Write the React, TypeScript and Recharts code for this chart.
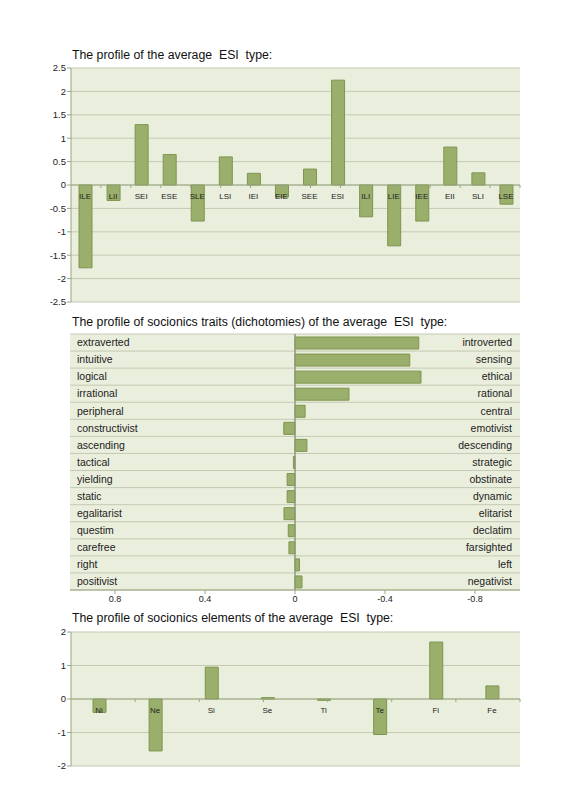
import React from 'react';
import { BarChart, Bar, XAxis, YAxis, CartesianGrid, ReferenceLine, ReferenceDot } from 'recharts';

const typeNames = ['ILE', 'LII', 'SEI', 'ESE', 'SLE', 'LSI', 'IEI', 'EIE', 'SEE', 'ESI', 'ILI', 'LIE', 'IEE', 'EII', 'SLI', 'LSE'];
const typeScores = [-1.77, -0.33, 1.29, 0.65, -0.77, 0.6, 0.25, -0.26, 0.34, 2.24, -0.68, -1.3, -0.77, 0.81, 0.26, -0.41];
const typeTicks = [-2.5, -2, -1.5, -1, -0.5, 0, 0.5, 1, 1.5, 2, 2.5];

const traitLeft = ['extraverted', 'intuitive', 'logical', 'irrational', 'peripheral', 'constructivist', 'ascending', 'tactical', 'yielding', 'static', 'egalitarist', 'questim', 'carefree', 'right', 'positivist'];
const traitRight = ['introverted', 'sensing', 'ethical', 'rational', 'central', 'emotivist', 'descending', 'strategic', 'obstinate', 'dynamic', 'elitarist', 'declatim', 'farsighted', 'left', 'negativist'];
const traitScores = [-0.55, -0.51, -0.56, -0.24, -0.045, 0.05, -0.053, 0.007, 0.035, 0.035, 0.049, 0.03, 0.027, -0.02, -0.031];
const traitTicks = [0.8, 0.4, 0, -0.4, -0.8];

const elementNames = ['Ni', 'Ne', 'Si', 'Se', 'Ti', 'Te', 'Fi', 'Fe'];
const elementScores = [-0.4, -1.55, 0.95, 0.04, -0.04, -1.06, 1.7, 0.39];
const elementTicks = [-2, -1, 0, 1, 2];

const FONT = '"Liberation Sans", Arial, sans-serif';
const BG = '#EAEEDD';
const GRID = '#C4CAB3';
const AXIS = '#98A67E';
const BAR_FILL = '#9AAF6B';
const BAR_STROKE = '#7E954F';
const TEXT = '#222';

function ColumnProfile(props: {
  names: string[];
  scores: number[];
  ticks: number[];
  height: number;
  top: number;
  bottom: number;
}) {
  const { names, scores, ticks, height, top, bottom } = props;
  const data = names.map((name, i) => ({ name, value: scores[i] }));
  const bounds = names.map((_, i) => i + 1);
  return (
    <BarChart width={566} height={height} data={data} margin={{ top, right: 46, bottom, left: 0 }} barCategoryGap={0}>
      <CartesianGrid vertical={false} stroke={GRID} fill={BG} />
      <XAxis dataKey="name" type="category" hide />
      <XAxis xAxisId="b" type="number" domain={[0, names.length]} hide allowDataOverflow />
      <YAxis
        type="number"
        domain={[ticks[0], ticks[ticks.length - 1]]}
        ticks={ticks}
        interval={0}
        width={71}
        tickSize={4}
        tickMargin={1}
        stroke={AXIS}
        tick={{ fontSize: 9.5, fill: TEXT, fontFamily: FONT }}
      />
      <ReferenceLine y={0} stroke={AXIS} strokeWidth={1.2} />
      <Bar dataKey="value" fill={BAR_FILL} stroke={BAR_STROKE} strokeWidth={1} barSize={13} isAnimationActive={false} />
      {bounds.map((b) => (
        <ReferenceDot
          key={'t' + b}
          xAxisId="b"
          x={b}
          y={0}
          r={0}
          shape={(p: any) => <line x1={p.cx} x2={p.cx} y1={p.cy} y2={p.cy + 3} stroke={AXIS} strokeWidth={1} />}
        />
      ))}
      {names.map((n) => (
        <ReferenceDot
          key={'l' + n}
          x={n}
          y={0}
          r={0}
          shape={(p: any) => (
            <text x={p.cx} y={p.cy + 13.5} textAnchor="middle" fontSize={8} fill={TEXT} fontFamily={FONT}>
              {n}
            </text>
          )}
        />
      ))}
    </BarChart>
  );
}

function TraitProfile() {
  const data = traitLeft.map((left, i) => ({ left, right: traitRight[i], value: traitScores[i] }));
  const n = data.length;
  return (
    <BarChart
      layout="vertical"
      width={566}
      height={290}
      data={data}
      margin={{ top: 8, right: 46, bottom: 6, left: 70 }}
      barCategoryGap={0}
    >
      <CartesianGrid
        vertical={false}
        stroke={GRID}
        fill={BG}
        horizontalCoordinatesGenerator={({ offset }: any) =>
          Array.from({ length: n + 1 }, (_, i) => offset.top + (offset.height * i) / n)
        }
      />
      <XAxis
        type="number"
        domain={[-1, 1]}
        reversed
        ticks={traitTicks}
        interval={0}
        height={20}
        tickSize={4}
        tickMargin={2}
        stroke={AXIS}
        allowDataOverflow
        tick={{ fontSize: 9, fill: TEXT, fontFamily: FONT }}
      />
      <YAxis
        yAxisId="l"
        type="category"
        dataKey="left"
        mirror
        axisLine={false}
        tickLine={false}
        tickSize={0}
        tickMargin={7}
        interval={0}
        tick={{ fontSize: 10.5, fill: TEXT, fontFamily: FONT }}
      />
      <YAxis
        yAxisId="r"
        orientation="right"
        type="category"
        dataKey="right"
        mirror
        axisLine={false}
        tickLine={false}
        tickSize={0}
        tickMargin={8}
        interval={0}
        tick={{ fontSize: 10.5, fill: TEXT, fontFamily: FONT }}
      />
      <Bar yAxisId="l" dataKey="value" fill={BAR_FILL} stroke={BAR_STROKE} strokeWidth={1} barSize={12} isAnimationActive={false} />
      <ReferenceLine x={0} yAxisId="l" stroke="#8C9A78" strokeWidth={1.5} />
    </BarChart>
  );
}

const titleStyle: React.CSSProperties = {
  position: 'absolute',
  left: 72,
  fontFamily: FONT,
  fontSize: 12.3,
  lineHeight: '12.5px',
  color: '#111',
  whiteSpace: 'pre',
};

export default function App() {
  return (
    <div style={{ position: 'absolute', left: 0, top: 0, width: 566, height: 800, background: '#fff', overflow: 'hidden' }}>
      <div style={{ ...titleStyle, top: 48.5 }}>The profile of the average  ESI  type:</div>
      <div style={{ position: 'absolute', left: 0, top: 60 }}>
        <ColumnProfile names={typeNames} scores={typeScores} ticks={typeTicks} height={250} top={8} bottom={8} />
      </div>
      <div style={{ ...titleStyle, top: 315.5 }}>The profile of socionics traits (dichotomies) of the average  ESI  type:</div>
      <div style={{ position: 'absolute', left: 0, top: 326 }}>
        <TraitProfile />
      </div>
      <div style={{ ...titleStyle, top: 611.5 }}>The profile of socionics elements of the average  ESI  type:</div>
      <div style={{ position: 'absolute', left: 0, top: 625 }}>
        <ColumnProfile names={elementNames} scores={elementScores} ticks={elementTicks} height={150} top={7} bottom={9} />
      </div>
    </div>
  );
}
